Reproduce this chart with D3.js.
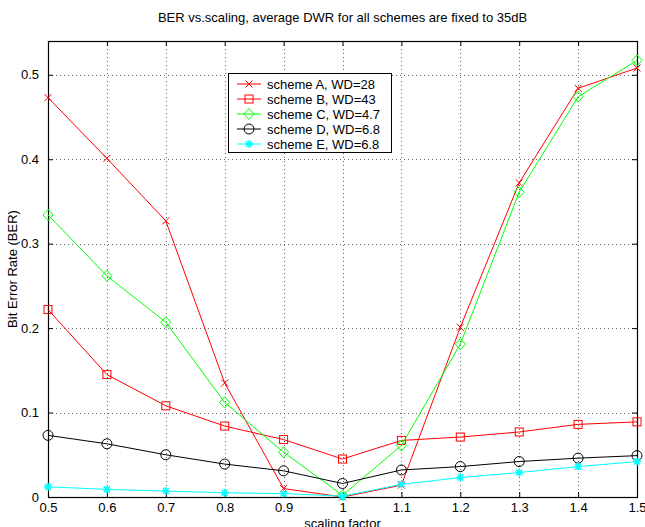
<!DOCTYPE html>
<html>
<head>
<meta charset="utf-8">
<script src="https://cdn.jsdelivr.net/npm/d3@7"></script>
<style>
body { margin: 0; background: #fff; }
text { font-family: "Liberation Sans", Arial, sans-serif; fill: #000; }
</style>
</head>
<body>
<div id="chart"></div>
<script>
var scaling = [0.5, 0.6, 0.7, 0.8, 0.9, 1.0, 1.1, 1.2, 1.3, 1.4, 1.5];
var schemeA = [0.473, 0.401, 0.327, 0.135, 0.010, 0.000, 0.014, 0.201, 0.372, 0.484, 0.508];
var schemeB = [0.222, 0.145, 0.108, 0.084, 0.068, 0.045, 0.067, 0.071, 0.077, 0.086, 0.089];
var schemeC = [0.334, 0.262, 0.207, 0.112, 0.053, 0.002, 0.061, 0.181, 0.361, 0.474, 0.517];
var schemeD = [0.073, 0.063, 0.050, 0.039, 0.031, 0.016, 0.032, 0.036, 0.042, 0.046, 0.049];
var schemeE = [0.012, 0.009, 0.007, 0.005, 0.004, 0.001, 0.015, 0.023, 0.029, 0.036, 0.042];
var seriesNames = ["scheme A, WD=28", "scheme B, WD=43", "scheme C, WD=4.7", "scheme D, WD=6.8", "scheme E, WD=6.8"];
var xTicks = [0.5, 0.6, 0.7, 0.8, 0.9, 1, 1.1, 1.2, 1.3, 1.4, 1.5];
var yTicks = [0, 0.1, 0.2, 0.3, 0.4, 0.5];

var series = [
	{ name: seriesNames[0], values: schemeA, color: "#ff0000", marker: "x" },
	{ name: seriesNames[1], values: schemeB, color: "#ff0000", marker: "square" },
	{ name: seriesNames[2], values: schemeC, color: "#00ff00", marker: "diamond" },
	{ name: seriesNames[3], values: schemeD, color: "#000000", marker: "circle" },
	{ name: seriesNames[4], values: schemeE, color: "#00ffff", marker: "star" }
];

var W = 645, H = 527;
var m = { left: 48, right: 8, top: 41, bottom: 30 };

var svg = d3.select("#chart").append("svg")
	.attr("width", W)
	.attr("height", H);

var x = d3.scaleLinear().domain([0.5, 1.5]).range([m.left, W - m.right]);
var y = d3.scaleLinear().domain([0, 0.54]).range([H - m.bottom, m.top]);

// grid
var grid = svg.append("g")
	.attr("stroke", "#666")
	.attr("stroke-width", 1)
	.attr("stroke-dasharray", "1,3");
grid.selectAll("line.gx")
	.data(xTicks.slice(1, -1))
	.enter().append("line")
	.attr("x1", function(d) { return Math.round(x(d)) + 0.5; })
	.attr("x2", function(d) { return Math.round(x(d)) + 0.5; })
	.attr("y1", m.top)
	.attr("y2", H - m.bottom);
grid.selectAll("line.gy")
	.data(yTicks.slice(1))
	.enter().append("line")
	.attr("y1", function(d) { return Math.round(y(d)) + 0.5; })
	.attr("y2", function(d) { return Math.round(y(d)) + 0.5; })
	.attr("x1", m.left)
	.attr("x2", W - m.right);

// axes (ticks inside, on all four sides)
var tl = 5;
svg.append("g")
	.attr("transform", "translate(0," + (H - m.bottom) + ")")
	.call(d3.axisBottom(x).tickValues(xTicks).tickSizeInner(-tl).tickSizeOuter(0).tickPadding(6).tickFormat(d3.format("~g")));
svg.append("g")
	.attr("transform", "translate(0," + m.top + ")")
	.call(d3.axisTop(x).tickValues(xTicks).tickSizeInner(-tl).tickSizeOuter(0).tickFormat(""));
svg.append("g")
	.attr("transform", "translate(" + m.left + ",0)")
	.call(d3.axisLeft(y).tickValues(yTicks).tickSizeInner(-tl).tickSizeOuter(0).tickPadding(9).tickFormat(d3.format("~g")));
svg.append("g")
	.attr("transform", "translate(" + (W - m.right) + ",0)")
	.call(d3.axisRight(y).tickValues(yTicks).tickSizeInner(-tl).tickSizeOuter(0).tickFormat(""));
svg.selectAll(".domain").remove();
svg.selectAll(".tick text").attr("font-size", 13).attr("font-family", "Liberation Sans, Arial, sans-serif");

svg.append("rect")
	.attr("x", m.left + 0.5)
	.attr("y", m.top + 0.5)
	.attr("width", W - m.right - m.left)
	.attr("height", H - m.bottom - m.top)
	.attr("fill", "none")
	.attr("stroke", "#000")
	.attr("stroke-width", 1.2);

// markers
function drawMarker(g, type, color) {
	if (type == "x") {
		g.append("path").attr("d", "M-3.5,-3.5L3.5,3.5M-3.5,3.5L3.5,-3.5").attr("stroke", color).attr("fill", "none");
	} else if (type == "square") {
		g.append("rect").attr("x", -4).attr("y", -4).attr("width", 8).attr("height", 8).attr("stroke", color).attr("fill", "none");
	} else if (type == "diamond") {
		g.append("path").attr("d", "M0,-5.5L5,0L0,5.5L-5,0Z").attr("stroke", color).attr("fill", "none");
	} else if (type == "circle") {
		g.append("circle").attr("r", 5).attr("stroke", color).attr("fill", "none");
	} else if (type == "star") {
		g.append("path").attr("d", "M-4,0L4,0M0,-4L0,4M-3,-3L3,3M-3,3L3,-3").attr("stroke", color).attr("fill", "none").attr("stroke-width", 1.5);
	}
}

var line = d3.line()
	.x(function(d, i) { return x(scaling[i]); })
	.y(function(d) { return y(d); });

series.forEach(function(s) {
	svg.append("path")
		.datum(s.values)
		.attr("d", line)
		.attr("fill", "none")
		.attr("stroke", s.color)
		.attr("stroke-width", 1);
	svg.selectAll(null)
		.data(s.values)
		.enter().append("g")
		.attr("transform", function(d, i) { return "translate(" + x(scaling[i]) + "," + y(d) + ")"; })
		.each(function() { drawMarker(d3.select(this), s.marker, s.color); });
});

// legend
var lg = svg.append("g").attr("transform", "translate(228,73)");
lg.append("rect")
	.attr("x", 0.5).attr("y", 0.5)
	.attr("width", 163).attr("height", 79)
	.attr("fill", "#fff")
	.attr("stroke", "#000");
series.forEach(function(s, i) {
	var ry = 11 + i * 15;
	lg.append("line")
		.attr("x1", 9).attr("x2", 33)
		.attr("y1", ry).attr("y2", ry)
		.attr("stroke", s.color);
	drawMarker(lg.append("g").attr("transform", "translate(21," + ry + ")"), s.marker, s.color);
	lg.append("text")
		.attr("x", 39)
		.attr("y", ry + 4.5)
		.attr("font-size", 13)
		.text(s.name);
});

// titles
svg.append("text")
	.attr("x", (m.left + W - m.right) / 2)
	.attr("y", 22)
	.attr("text-anchor", "middle")
	.attr("font-size", 13)
	.text("BER vs.scaling, average DWR for all schemes are fixed to 35dB");
svg.append("text")
	.attr("x", (m.left + W - m.right) / 2)
	.attr("y", 528)
	.attr("text-anchor", "middle")
	.attr("font-size", 13)
	.text("scaling factor");
svg.append("text")
	.attr("transform", "translate(17," + ((m.top + H - m.bottom) / 2) + ") rotate(-90)")
	.attr("text-anchor", "middle")
	.attr("font-size", 13)
	.text("Bit Error Rate (BER)");
</script>
</body>
</html>
